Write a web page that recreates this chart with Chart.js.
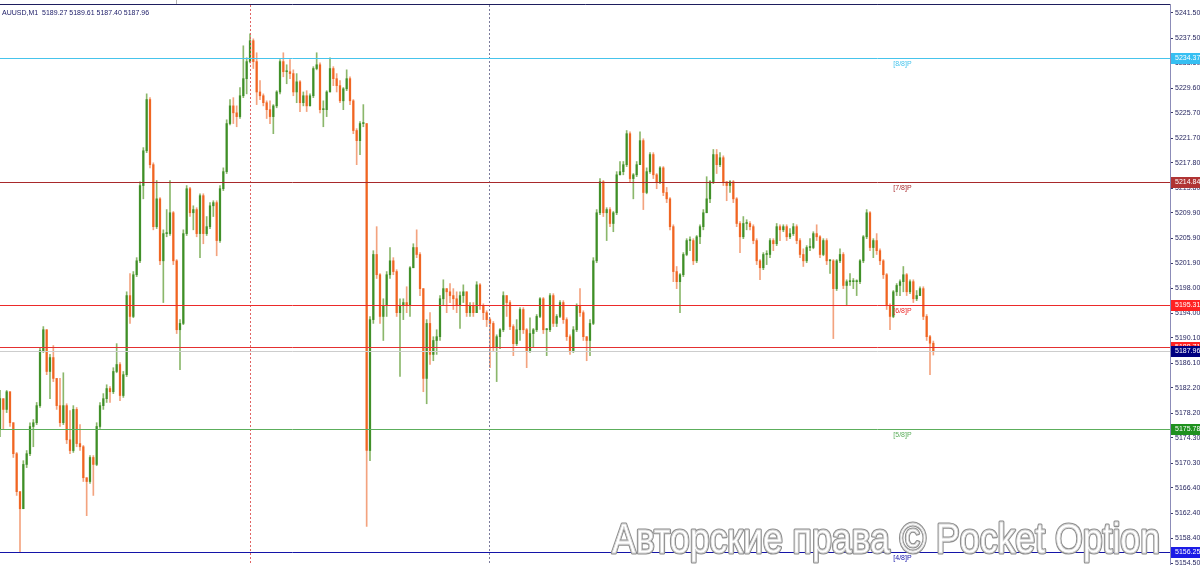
<!DOCTYPE html>
<html><head><meta charset="utf-8">
<script src="https://cdn.jsdelivr.net/npm/chart.js@4.4.1/dist/chart.umd.min.js"></script>
<style>html,body{margin:0;padding:0;background:#fff;overflow:hidden}canvas{display:block}</style>
</head><body>
<canvas id="c" width="1200" height="565"></canvas>
<script>
const symbolTitle = 'AUUSD,M1  5189.27 5189.61 5187.40 5187.96';
const firstOpen = 5175.6;
const closes = [
5180.5,5178.8,5181.6,5176.7,5171.8,5165.8,5163.1,5170.1,5171.8,5176.1,
5176.7,5179.4,5188.1,5191.4,5184.8,5187.0,5183.7,5179.4,5176.7,5179.4,
5174.0,5172.3,5178.8,5173.4,5172.9,5168.0,5167.4,5171.2,5170.1,5176.1,
5179.4,5180.5,5182.1,5181.6,5184.8,5185.9,5181.0,5184.3,5196.8,5193.5,
5200.1,5202.3,5214.2,5219.7,5227.8,5217.5,5207.7,5212.1,5202.3,5206.6,
5206.6,5209.9,5202.3,5191.4,5192.4,5206.6,5213.7,5209.9,5210.4,5206.6,
5212.6,5206.6,5207.7,5211.0,5211.5,5205.5,5213.7,5216.4,5224.0,5226.8,
5225.7,5225.1,
5228.4,5231.1,5233.8,5237.1,5233.8,5229.0,5228.4,5227.3,5226.2,5225.1,
5226.8,5229.0,5233.8,5232.2,5232.2,5231.9,5229.0,5230.6,5227.3,5228.4,
5226.8,5228.4,5232.7,5233.3,5226.2,5226.2,5229.0,5232.7,5231.1,5230.0,
5227.6,5229.5,5231.1,5227.6,5222.9,5221.3,5224.0,5224.0,5172.3,5193.0,
5203.3,5200.1,5193.5,5195.2,5200.1,5202.3,5200.6,5194.1,5195.2,5195.7,
5195.2,5201.2,5204.4,5203.3,5197.9,5183.7,5192.4,5187.5,5189.7,5190.3,
5196.3,5197.9,5197.4,5196.8,5196.3,5195.2,5196.8,5197.4,5194.1,5195.2,
5194.1,
5198.5,5195.2,5194.1,5193.0,5192.4,5188.6,5190.3,5191.4,5196.8,5195.7,
5191.9,5189.2,5191.4,5194.6,5191.4,5188.1,5190.8,5191.4,5193.5,5196.3,
5191.4,5191.4,5196.8,5192.4,5193.5,5195.7,5193.0,5190.3,5188.1,5191.4,
5195.2,5194.1,5190.3,5189.7,5192.4,5202.3,5209.9,5214.8,5209.9,5210.4,
5208.2,5209.9,5215.9,5216.4,5217.5,5222.4,5215.3,5215.9,5217.5,5221.3,
5213.1,5216.4,5219.1,5215.9,5214.8,5217.0,5213.1,5212.1,5207.7,5200.6,
5199.0,5200.1,5203.3,5205.5,5205.5,5202.3,5206.1,5207.7,5209.9,5212.1,
5214.8,5219.1,5217.5,5218.6,5214.8,5214.2,5214.8,5212.1,5208.2,5206.1,
5208.2,5208.2,5207.7,5205.5,5202.3,5201.2,5203.3,5203.3,5205.5,5205.0,
5207.7,5207.2,5207.7,5206.1,5206.6,5207.7,5205.5,5203.3,5202.3,5204.4,
5204.4,5206.6,5206.1,5203.3,5205.5,5202.3,5202.3,5197.9,5202.3,5203.3,
5198.4,5199.0,5199.0,5199.0,5199.0,5202.3,5206.1,5209.9,5204.4,5205.5,
5203.9,5202.3,5200.1,5195.2,5193.5,5197.4,5198.4,5199.0,5200.1,5197.4,
5199.0,5196.3,5196.8,5197.9,5193.5,5190.3,5189.27,5187.96
];
const highs = [
5181.8,5180.5,5181.8,5181.6,5176.7,5172.0,5165.8,5170.7,5172.3,5176.7,
5177.2,5179.9,5188.6,5191.9,5191.4,5187.5,5188.9,5183.7,5183.7,5184.6,
5179.7,5178.6,5179.4,5179.1,5176.4,5173.1,5168.0,5171.5,5171.5,5176.7,
5179.9,5181.3,5182.7,5182.4,5185.4,5189.2,5186.2,5184.8,5197.4,5200.3,
5200.6,5202.8,5214.8,5220.2,5228.7,5228.1,5217.8,5215.0,5212.3,5207.2,
5210.4,5215.0,5210.1,5202.5,5193.0,5207.2,5214.2,5213.9,5211.0,5210.7,
5212.9,5212.9,5209.3,5211.5,5211.8,5211.8,5214.2,5217.0,5224.6,5227.8,
5228.1,5226.8,
5229.7,5236.3,5234.4,5238.2,5237.4,5235.2,5230.8,5228.7,5227.6,5227.6,
5227.0,5229.2,5234.1,5235.2,5233.3,5234.1,5232.5,5231.9,5230.8,5229.0,
5229.2,5228.7,5233.0,5235.2,5233.6,5227.6,5229.2,5234.4,5233.0,5231.9,
5230.8,5229.7,5232.5,5231.4,5227.8,5223.2,5224.3,5227.0,5224.0,5193.5,
5203.9,5207.7,5200.3,5196.3,5200.6,5204.4,5202.8,5200.9,5196.3,5196.3,
5198.2,5201.4,5205.0,5207.2,5203.6,5197.9,5193.0,5194.1,5190.3,5191.4,
5196.8,5199.3,5197.9,5198.7,5197.9,5197.4,5197.4,5198.5,5197.4,5195.7,
5195.7,
5199.0,5198.7,5195.5,5194.4,5193.3,5192.7,5190.6,5191.6,5197.4,5196.8,
5196.0,5192.2,5193.0,5194.9,5194.9,5191.6,5193.3,5191.6,5193.8,5196.5,
5196.5,5191.6,5197.1,5197.1,5193.8,5196.0,5196.0,5193.3,5190.6,5191.9,
5195.5,5197.9,5194.4,5190.3,5193.0,5202.8,5210.4,5215.3,5215.0,5210.7,
5210.7,5210.1,5216.4,5218.0,5218.0,5222.9,5222.7,5216.1,5218.0,5222.7,
5221.6,5217.0,5219.4,5219.4,5216.1,5217.2,5217.2,5213.9,5212.3,5208.0,
5201.4,5200.3,5203.6,5205.8,5206.1,5205.8,5206.3,5208.0,5210.4,5215.6,
5215.0,5219.9,5219.9,5219.4,5218.9,5214.8,5215.0,5215.0,5212.3,5208.5,
5209.3,5208.8,5208.5,5208.0,5205.8,5202.5,5203.6,5203.9,5205.8,5205.8,
5208.2,5208.0,5208.0,5208.0,5207.4,5208.2,5208.0,5205.8,5204.2,5204.7,
5205.8,5206.9,5208.0,5206.3,5205.8,5205.8,5202.5,5202.5,5202.5,5204.2,
5203.6,5199.3,5200.3,5199.5,5199.3,5202.5,5206.3,5210.4,5210.1,5205.8,
5206.6,5204.2,5202.5,5200.3,5195.5,5197.6,5198.7,5199.3,5201.4,5200.3,
5199.3,5199.3,5197.6,5198.2,5198.2,5193.8,5190.5,5189.61
];
const lows = [
5174.5,5175.6,5178.3,5176.1,5171.2,5165.2,5156.3,5163.1,5169.6,5171.5,
5172.9,5176.4,5179.1,5187.8,5184.3,5180.5,5183.2,5178.8,5176.1,5176.4,
5173.4,5171.8,5172.0,5172.9,5172.3,5167.4,5162.0,5167.1,5165.2,5169.9,
5175.8,5178.8,5179.9,5179.9,5181.3,5184.6,5180.2,5180.7,5184.0,5192.4,
5193.3,5199.8,5202.0,5212.1,5219.4,5217.0,5207.2,5207.4,5201.7,5195.7,
5206.1,5206.3,5201.7,5190.8,5185.1,5192.2,5206.3,5209.3,5207.2,5206.1,
5202.8,5205.0,5206.3,5207.4,5209.3,5203.1,5205.2,5213.4,5216.1,5223.8,
5224.0,5223.5,
5224.8,5228.1,5228.7,5233.6,5232.7,5227.0,5227.8,5226.8,5224.8,5224.0,
5222.4,5226.5,5228.7,5231.4,5230.3,5231.1,5228.4,5227.3,5225.9,5226.8,
5225.9,5226.8,5228.1,5232.5,5225.7,5223.5,5225.1,5229.0,5230.0,5229.0,
5227.3,5226.2,5229.2,5227.0,5222.4,5217.5,5219.1,5223.5,5160.3,5170.7,
5192.4,5199.5,5192.4,5189.7,5193.5,5199.5,5200.1,5193.5,5184.0,5193.0,
5194.1,5193.5,5201.2,5202.8,5196.8,5181.6,5179.7,5185.9,5186.5,5187.5,
5189.7,5195.2,5194.1,5195.7,5194.6,5194.1,5191.6,5195.7,5193.5,5193.5,
5193.5,
5195.2,5194.6,5193.0,5191.9,5185.4,5188.1,5183.2,5188.4,5191.1,5193.5,
5191.4,5187.3,5188.9,5189.7,5190.8,5185.4,5187.8,5188.6,5191.1,5193.3,
5190.8,5187.3,5191.1,5191.9,5191.9,5193.3,5192.4,5189.7,5187.5,5187.8,
5191.1,5193.5,5189.7,5186.5,5187.3,5192.2,5202.0,5209.6,5209.3,5205.5,
5207.7,5206.9,5209.6,5215.9,5215.9,5217.2,5214.8,5212.1,5215.6,5217.5,
5210.4,5212.9,5216.1,5215.3,5213.7,5214.5,5212.6,5211.5,5207.2,5199.0,
5197.9,5194.1,5199.8,5203.1,5203.9,5201.7,5202.0,5205.0,5207.2,5211.5,
5211.5,5214.5,5216.1,5217.2,5214.2,5211.8,5213.1,5211.5,5207.7,5203.6,
5205.8,5207.2,5207.2,5205.0,5201.7,5199.3,5200.9,5201.7,5202.8,5203.9,
5204.7,5205.5,5206.9,5205.5,5205.8,5206.3,5205.0,5202.8,5201.4,5202.0,
5203.9,5204.2,5205.5,5202.8,5203.1,5201.7,5200.3,5190.0,5197.6,5202.0,
5197.9,5195.2,5198.4,5197.9,5196.8,5198.7,5202.0,5205.8,5203.9,5202.8,
5203.3,5201.7,5199.5,5194.6,5191.4,5193.3,5196.8,5196.8,5197.4,5196.8,
5197.1,5195.7,5196.0,5196.8,5193.0,5189.7,5184.3,5187.40
];
const yTicks = [5241.50,5237.50,5233.60,5229.60,5225.70,5221.70,5217.80,5213.80,5209.90,5205.90,
5201.90,5198.00,5194.00,5190.10,5186.10,5182.20,5178.20,5174.30,5170.30,5166.40,5162.40,5158.40,5154.50];
const yMin = 5154.20, yMax = 5242.75;
const levelValues = [5234.37, 5214.84, 5195.31, 5188.71, 5175.78, 5156.25];
const levelNames = ['[8/8]P', '[7/8]P', '[6/8]P', '', '[5/8]P', '[4/8]P'];
const lastPrice = 5187.96;
const separatorsAt = [75, 146.7];
const levelNameAt = 268;
const slotCount = 351;
const watermark = 'Авторские права © Pocket Option';

// styles
const levelLineColors = ['#46c4ec', '#a8292b', '#ec2a2a', '#e43030', '#5cae5c', '#1414a8'];
const levelBoxColors = ['#36bff2', '#b03434', '#ff2222', '#ff2222', '#1f911f', '#1c1ce6'];
const separatorColors = ['#e06464', '#7c7c9c'];
const FONT = '"Liberation Sans", Arial, sans-serif';

const opens = closes.map((c, i) => i === 0 ? firstOpen : closes[i - 1]);
const up = closes.map((c, i) => c >= opens[i]);
const bodyData = closes.map((c, i) => ({x: i, y: [Math.min(opens[i], c), Math.max(opens[i], c)]}));
const wickData = closes.map((c, i) => ({x: i, y: [Math.min(lows[i], opens[i], c), Math.max(highs[i], opens[i], c)]}));

const overlay = {
  id: 'overlay',
  afterDatasetsDraw(chart) {
    const {ctx, chartArea: a, scales: {x, y}} = chart;
    ctx.save();
    ctx.beginPath(); ctx.rect(a.left, a.top, a.right - a.left, a.bottom - a.top); ctx.clip();
    ctx.setLineDash([2, 2]); ctx.lineWidth = 1;
    separatorsAt.forEach((v, i) => {
      const px = Math.round(x.getPixelForValue(v)) + 0.5;
      ctx.strokeStyle = separatorColors[i];
      ctx.beginPath(); ctx.moveTo(px, a.top); ctx.lineTo(px, a.bottom); ctx.stroke();
    });
    ctx.setLineDash([]);
    let py = Math.round(y.getPixelForValue(lastPrice)) + 0.5;
    ctx.strokeStyle = '#cdcdcd';
    ctx.beginPath(); ctx.moveTo(a.left, py); ctx.lineTo(a.right, py); ctx.stroke();
    ctx.font = '7px ' + FONT; ctx.textBaseline = 'top'; ctx.textAlign = 'left';
    levelValues.forEach((v, i) => {
      const p = Math.round(y.getPixelForValue(v)) + 0.5;
      ctx.strokeStyle = levelLineColors[i];
      ctx.beginPath(); ctx.moveTo(a.left, p); ctx.lineTo(a.right, p); ctx.stroke();
      if (levelNames[i]) {
        ctx.fillStyle = levelLineColors[i];
        ctx.fillText(levelNames[i], x.getPixelForValue(levelNameAt), p + 2);
      }
    });
    ctx.restore();
  },
  afterDraw(chart) {
    const {ctx, chartArea: a, scales: {y}} = chart;
    ctx.save();
    ctx.strokeStyle = '#1e1e5e'; ctx.lineWidth = 1;
    ctx.beginPath(); ctx.moveTo(0, a.top - 0.5); ctx.lineTo(a.right + 0.5, a.top - 0.5); ctx.stroke();
    ctx.strokeStyle = '#b4b4b4';
    ctx.beginPath(); ctx.moveTo(176.5, 0); ctx.lineTo(176.5, a.top - 1); ctx.stroke();
    ctx.fillStyle = '#1a1a66'; ctx.font = '7px ' + FONT; ctx.textBaseline = 'alphabetic';
    ctx.fillText(symbolTitle, 2, 15);
    ctx.font = '42px ' + FONT;
    const w = ctx.measureText(watermark).width;
    ctx.translate(612, 553);
    ctx.scale(548 / w, 1);
    ctx.lineJoin = 'round';
    ctx.strokeStyle = '#8e8e8e'; ctx.lineWidth = 3.2;
    ctx.strokeText(watermark, 0, 0);
    ctx.fillStyle = '#ffffff';
    ctx.fillText(watermark, 0, 0);
    ctx.strokeStyle = '#d6d6d6'; ctx.lineWidth = 0.8;
    ctx.strokeText(watermark, 0, 0);
    ctx.setTransform(1, 0, 0, 1, 0, 0);
    ctx.font = '7px ' + FONT; ctx.textBaseline = 'middle'; ctx.textAlign = 'left';
    const box = (v, color) => {
      const p = Math.round(y.getPixelForValue(v));
      ctx.fillStyle = color;
      ctx.fillRect(a.right + 1, p - 5, 1200 - a.right - 1, 11);
      ctx.fillStyle = '#ffffff';
      ctx.fillText(v.toFixed(2), a.right + 5, p + 0.5);
    };
    levelValues.forEach((v, i) => box(v, levelBoxColors[i]));
    box(lastPrice, '#000080');
    ctx.restore();
  }
};

new Chart(document.getElementById('c'), {
  type: 'bar',
  data: {
    datasets: [
      {
        data: bodyData,
        backgroundColor: up.map(u => u ? 'rgba(52,138,30,0.88)' : 'rgba(240,92,20,0.88)'),
        barThickness: 1.6, minBarLength: 1, grouped: false, borderWidth: 0
      },
      {
        data: wickData,
        backgroundColor: up.map(u => u ? 'rgba(110,165,70,0.8)' : 'rgba(240,140,95,0.8)'),
        barThickness: 1, grouped: false, borderWidth: 0
      }
    ]
  },
  plugins: [overlay],
  options: {
    responsive: false, animation: false, devicePixelRatio: 1,
    layout: {padding: {top: 5, left: 0, right: 0, bottom: 0}},
    plugins: {legend: {display: false}, tooltip: {enabled: false}},
    scales: {
      x: {type: 'linear', min: 0, max: slotCount, display: false, offset: false},
      y: {
        position: 'right', min: yMin, max: yMax,
        afterFit(s) { s.width = 30; s.paddingTop = 0; s.paddingBottom = 0; },
        afterBuildTicks(s) { s.ticks = yTicks.map(v => ({value: v})); },
        ticks: {
          autoSkip: false, padding: 2, color: '#1e1e5a',
          font: {family: FONT, size: 7},
          callback: v => Number(v).toFixed(2)
        },
        grid: {drawOnChartArea: false, drawTicks: true, tickLength: 3, color: '#3a3a6a'},
        border: {display: true, color: '#8c8cb8'}
      }
    }
  }
});
</script>
</body></html>
